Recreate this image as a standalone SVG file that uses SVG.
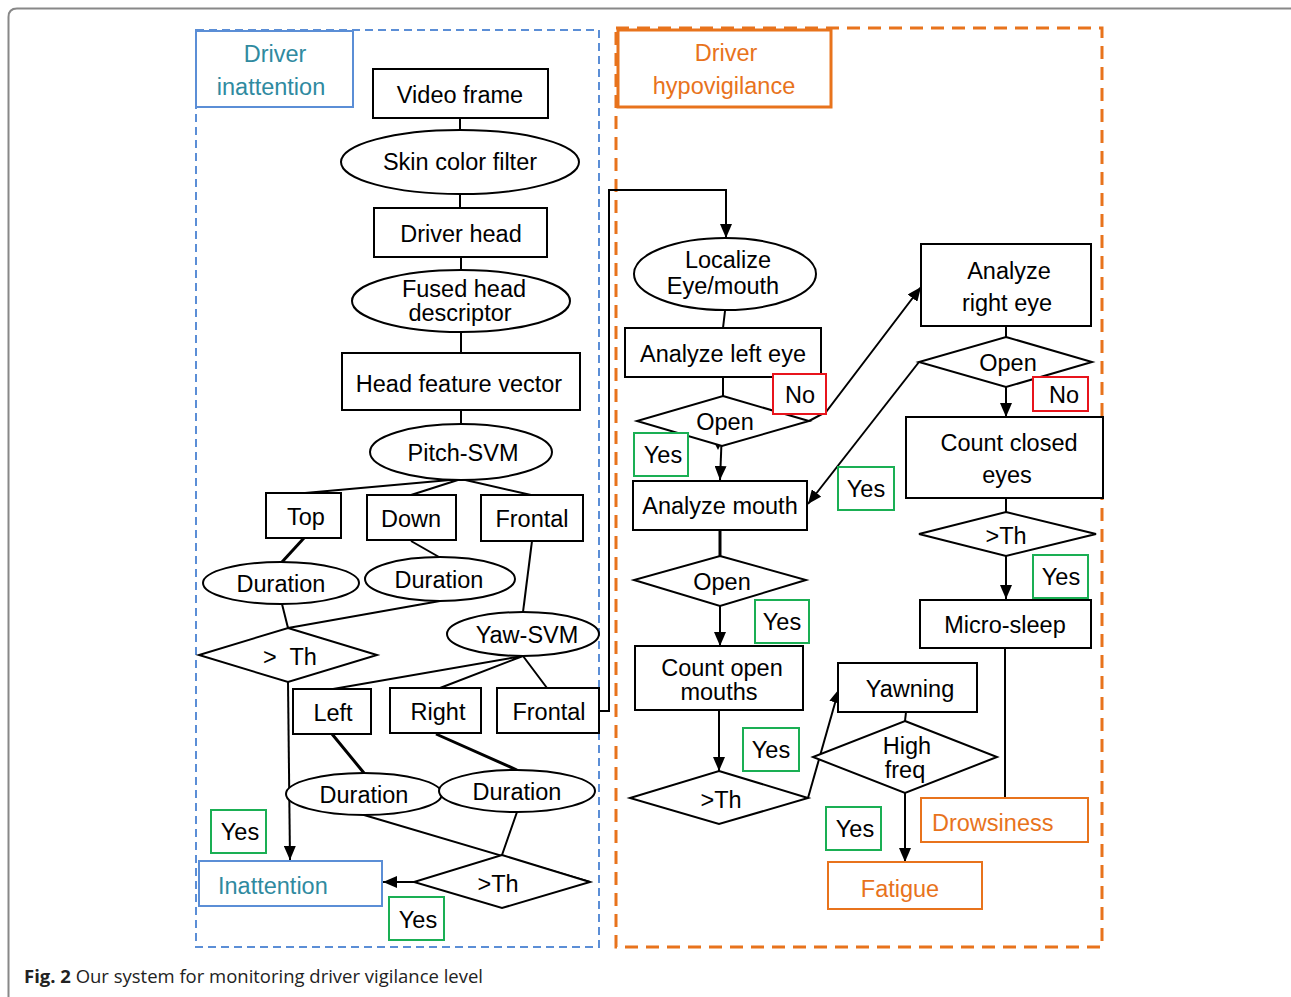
<svg xmlns="http://www.w3.org/2000/svg" width="1291" height="997" viewBox="0 0 1291 997">
<style>
text{font-family:"Liberation Sans",Arial,sans-serif;font-size:23.5px;fill:#000;text-anchor:middle}
.n{fill:#fff;stroke:#000;stroke-width:2}
.c{fill:none;stroke:#000;stroke-width:2}
.thick{stroke-width:3}
.yes{fill:#fff;stroke:#1aaf54;stroke-width:2}
.no{fill:#fff;stroke:#e8141c;stroke-width:2}
.org{fill:#fff;stroke:#e8731c;stroke-width:2}
.blu{fill:#fff;stroke:#5b8ed6;stroke-width:2}
.ot{fill:#e8731c}
.bt{fill:#2f8aa0}
</style>
<defs>
<marker id="ah" viewBox="0 0 14 12" refX="14" refY="6" markerWidth="14" markerHeight="12" markerUnits="userSpaceOnUse" orient="auto">
<path d="M0,0 L14,6 L0,12 Z" fill="#000"/>
</marker>
</defs>
<rect width="1291" height="997" fill="#fff"/>
<path d="M8.5 997 V17 Q8.5 8.5 17 8.5 H1291" fill="none" stroke="#888" stroke-width="2"/>

<g id="inattention-frame">
<rect x="196" y="30" width="403" height="917" fill="none" stroke="#5b8ed6" stroke-width="2" stroke-dasharray="8 5"/>
<rect x="196" y="31" width="157" height="76" class="blu"/>
<text x="275" y="62" class="bt">Driver</text>
<text x="271" y="95" class="bt">inattention</text>
</g>
<g id="hypovigilance-frame">
<rect x="616" y="28" width="486" height="919" fill="none" stroke="#e8731c" stroke-width="3" stroke-dasharray="13 8"/>
<rect x="618" y="30" width="213" height="77" fill="#fff" stroke="#e8731c" stroke-width="3"/>
<text x="726" y="61" class="ot">Driver</text>
<text x="724" y="94" class="ot">hypovigilance</text>
</g>

<g id="connectors">
<path class="c" d="M460 118 V130 M460 194 V208 M461 257 V270 M461 332 V353 M461 410 V424"/>
<path class="c" d="M461 479 L305 493 M461 479 L411 495 M461 479 L531 495"/>
<path class="c thick" d="M304 538 L282 562"/>
<path class="c" d="M411 541 L439 557"/>
<path class="c" d="M282 604 L288 628 M440 601 L288 628"/>
<path class="c" d="M532 541 L523 612"/>
<path class="c" d="M523 656 L333 689 M523 656 L440 688 M523 656 L547 688"/>
<path class="c thick" d="M332 734 L364 773 M436 734 L517 770"/>
<path class="c" d="M364 815 L590 882 M517 812 L502 855"/>
<path class="c" d="M414 882 L383 882" marker-end="url(#ah)"/>
<path class="c" d="M288 682 L290 860" marker-end="url(#ah)"/>
<path class="c" d="M599 711 H609 V190 H726 V238" marker-end="url(#ah)"/>
<path class="c" d="M725 311 L723 328 M723 377 V396"/>
<path class="c" d="M809 421 L826 412 L921 287" marker-end="url(#ah)"/>
<path class="c" d="M722 430 L720 480" marker-end="url(#ah)"/>
<path d="M711 436 L725 436 L718 450 Z" fill="#000"/>
<path class="c" d="M919 362 L808 504" marker-end="url(#ah)"/>
<path class="c thick" d="M720 530 V556"/>
<path class="c" d="M720 606 V646" marker-end="url(#ah)"/>
<path class="c" d="M719 710 V771" marker-end="url(#ah)"/>
<path class="c" d="M808 798 L839 689" marker-end="url(#ah)"/>
<path class="c" d="M906 712 L905 721"/>
<path class="c" d="M905 793 V862" marker-end="url(#ah)"/>
<path class="c" d="M1006 326 V337"/>
<path class="c" d="M1006 387 V417" marker-end="url(#ah)"/>
<path class="c" d="M1006 498 V512"/>
<path class="c" d="M1006 556 V599" marker-end="url(#ah)"/>
<path class="c" d="M1005 648 V798"/>
</g>

<g id="video-frame"><rect class="n" x="373" y="69" width="175" height="49"/><text x="460" y="103">Video frame</text></g>
<g id="skin-color-filter"><ellipse class="n" cx="460" cy="162" rx="119" ry="32"/><text x="460" y="170">Skin color filter</text></g>
<g id="driver-head"><rect class="n" x="374" y="208" width="173" height="49"/><text x="461" y="242">Driver head</text></g>
<g id="fused-head"><ellipse class="n" cx="461" cy="301" rx="109" ry="31"/><text x="464" y="297">Fused head</text><text x="460" y="321">descriptor</text></g>
<g id="head-feature"><rect class="n" x="342" y="353" width="238" height="57"/><text x="459" y="392">Head feature vector</text></g>
<g id="pitch-svm"><ellipse class="n" cx="461" cy="452" rx="91" ry="28"/><text x="463" y="461">Pitch-SVM</text></g>
<g id="top"><rect class="n" x="266" y="493" width="75" height="45"/><text x="306" y="525">Top</text></g>
<g id="down"><rect class="n" x="367" y="495" width="89" height="45"/><text x="411" y="527">Down</text></g>
<g id="frontal-1"><rect class="n" x="481" y="495" width="102" height="46"/><text x="532" y="527">Frontal</text></g>
<g id="duration-1"><ellipse class="n" cx="281" cy="583" rx="78" ry="21"/><text x="281" y="592">Duration</text></g>
<g id="duration-2"><ellipse class="n" cx="440" cy="579" rx="75" ry="22"/><text x="439" y="588">Duration</text></g>
<g id="th-1"><path class="n" d="M288 628 L377 655 L288 682 L199 655 Z"/><text x="290" y="665" xml:space="preserve">&gt;  Th</text></g>
<g id="yaw-svm"><ellipse class="n" cx="523" cy="634" rx="76" ry="22"/><text x="527" y="643">Yaw-SVM</text></g>
<g id="left"><rect class="n" x="293" y="689" width="78" height="45"/><text x="333" y="721">Left</text></g>
<g id="right"><rect class="n" x="390" y="688" width="91" height="45"/><text x="438" y="720">Right</text></g>
<g id="frontal-2"><rect class="n" x="497" y="688" width="102" height="45"/><text x="549" y="720">Frontal</text></g>
<g id="duration-3"><ellipse class="n" cx="364" cy="794" rx="78" ry="21"/><text x="364" y="803">Duration</text></g>
<g id="duration-4"><ellipse class="n" cx="517" cy="791" rx="78" ry="21"/><text x="517" y="800">Duration</text></g>
<g id="th-2"><path class="n" d="M502 855 L590 882 L502 908 L414 882 Z"/><text x="498" y="892">&gt;Th</text></g>
<g id="inattention"><rect class="blu" x="199" y="861" width="183" height="45"/><text x="218" y="894" class="bt" style="text-anchor:start">Inattention</text></g>
<g id="yes-1"><rect class="yes" x="211" y="810" width="55" height="43"/><text x="240" y="840">Yes</text></g>
<g id="yes-2"><rect class="yes" x="389" y="897" width="55" height="43"/><text x="418" y="928">Yes</text></g>

<g id="localize"><ellipse class="n" cx="725" cy="274" rx="91" ry="36"/><text x="728" y="268">Localize</text><text x="723" y="294">Eye/mouth</text></g>
<g id="analyze-left-eye"><rect class="n" x="625" y="328" width="196" height="49"/><text x="723" y="362">Analyze left eye</text></g>
<g id="open-1"><path class="n" d="M723 396 L809 421 L722 446 L637 421 Z"/><text x="725" y="430">Open</text></g>
<g id="no-1"><rect class="no" x="773" y="374" width="53" height="40"/><text x="800" y="403">No</text></g>
<g id="yes-3"><rect class="yes" x="634" y="433" width="54" height="43"/><text x="663" y="463">Yes</text></g>
<g id="analyze-mouth"><rect class="n" x="633" y="481" width="174" height="49"/><text x="720" y="514">Analyze mouth</text></g>
<g id="yes-4"><rect class="yes" x="838" y="467" width="56" height="43"/><text x="866" y="497">Yes</text></g>
<g id="open-2"><path class="n" d="M720 556 L806 580 L720 606 L634 580 Z"/><text x="722" y="590">Open</text></g>
<g id="yes-5"><rect class="yes" x="755" y="600" width="54" height="43"/><text x="782" y="630">Yes</text></g>
<g id="count-open-mouths"><rect class="n" x="635" y="646" width="168" height="64"/><text x="722" y="676">Count open</text><text x="719" y="700">mouths</text></g>
<g id="yes-6"><rect class="yes" x="743" y="728" width="56" height="43"/><text x="771" y="758">Yes</text></g>
<g id="th-3"><path class="n" d="M719 771 L808 798 L719 824 L630 798 Z"/><text x="721" y="808">&gt;Th</text></g>
<g id="yawning"><rect class="n" x="838" y="663" width="139" height="49"/><text x="910" y="697">Yawning</text></g>
<g id="high-freq"><path class="n" d="M905 721 L997 757 L905 793 L813 757 Z"/><text x="907" y="754">High</text><text x="905" y="778">freq</text></g>
<g id="yes-7"><rect class="yes" x="826" y="807" width="55" height="43"/><text x="855" y="837">Yes</text></g>
<g id="fatigue"><rect class="org" x="828" y="862" width="154" height="47"/><text x="900" y="897" class="ot">Fatigue</text></g>
<g id="analyze-right-eye"><rect class="n" x="921" y="244" width="170" height="82"/><text x="1009" y="279">Analyze</text><text x="1007" y="311">right eye</text></g>
<g id="open-3"><path class="n" d="M1006 337 L1092 362 L1006 387 L919 362 Z"/><text x="1008" y="371">Open</text></g>
<g id="no-2"><rect class="no" x="1033" y="377" width="55" height="34"/><text x="1064" y="403">No</text></g>
<g id="count-closed-eyes"><rect class="n" x="906" y="417" width="197" height="81"/><text x="1009" y="451">Count closed</text><text x="1007" y="483">eyes</text></g>
<g id="th-4"><path class="n" d="M1006 512 L1096 534 L1006 556 L919 534 Z"/><text x="1006" y="544">&gt;Th</text></g>
<g id="yes-8"><rect class="yes" x="1033" y="555" width="55" height="43"/><text x="1061" y="585">Yes</text></g>
<g id="micro-sleep"><rect class="n" x="920" y="600" width="171" height="48"/><text x="1005" y="633">Micro-sleep</text></g>
<g id="drowsiness"><rect class="org" x="921" y="798" width="167" height="44"/><text x="932" y="831" class="ot" style="text-anchor:start">Drowsiness</text></g>

<g id="caption"><text x="24" y="983" style="font-family:'Open Sans','Noto Sans',sans-serif;font-size:18px;text-anchor:start;fill:#222" textLength="459" lengthAdjust="spacingAndGlyphs"><tspan font-weight="bold">Fig. 2</tspan> Our system for monitoring driver vigilance level</text></g>
</svg>
